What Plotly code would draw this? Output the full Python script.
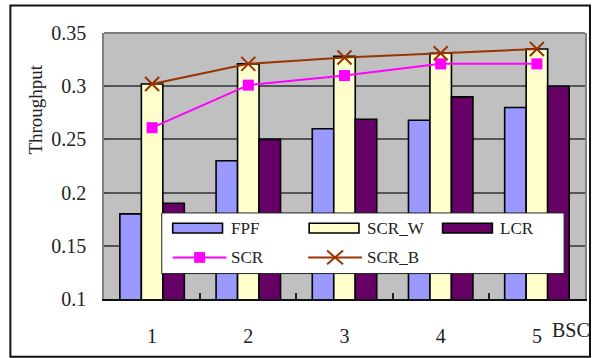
import plotly.graph_objects as go

# ---- data -------------------------------------------------------------
bsc = ["1", "2", "3", "4", "5"]
fpf = [0.18, 0.23, 0.26, 0.268, 0.28]
scr_w = [0.302, 0.321, 0.328, 0.331, 0.335]
lcr = [0.19, 0.25, 0.269, 0.29, 0.30]
scr = [0.261, 0.301, 0.31, 0.321, 0.321]
scr_b = [0.302, 0.321, 0.327, 0.331, 0.335]

y_ticks = [0.1, 0.15, 0.2, 0.25, 0.3, 0.35]
y_tick_labels = ["0.1", "0.15", "0.2", "0.25", "0.3", "0.35"]

# ---- style ------------------------------------------------------------
W, H = 598, 358
M = dict(l=104, r=11, t=33, b=53)
FONT = "Liberation Serif"
C_FPF, C_SCRW, C_LCR = "#9999FF", "#FFFFCC", "#660066"
C_SCR, C_SCRB = "#FF00FF", "#993300"

pw = W - M["l"] - M["r"]
ph = H - M["t"] - M["b"]


def px(x, y):
    """Pixel position in the page -> paper coordinates."""
    return (x - M["l"]) / pw, (H - M["b"] - y) / ph


fig = go.Figure()
bar_line = dict(color="black", width=1.6)
fig.add_bar(x=bsc, y=fpf, name="FPF", marker=dict(color=C_FPF, line=bar_line))
fig.add_bar(x=bsc, y=scr_w, name="SCR_W", marker=dict(color=C_SCRW, line=bar_line))
fig.add_bar(x=bsc, y=lcr, name="LCR", marker=dict(color=C_LCR, line=bar_line))
fig.add_scatter(x=bsc, y=scr, name="SCR", mode="lines+markers",
                line=dict(color=C_SCR, width=2),
                marker=dict(symbol="square", size=11, color=C_SCR))
fig.add_scatter(x=bsc, y=scr_b, name="SCR_B", mode="lines+markers",
                line=dict(color=C_SCRB, width=2),
                marker=dict(symbol="x-thin", size=14,
                            line=dict(color=C_SCRB, width=2)))

shapes = []
annotations = []

# outer frame
fx0, fy0 = px(10, 5)
fx1, fy1 = px(592, 364)
shapes.append(dict(type="rect", xref="paper", yref="paper", x0=fx0, x1=fx1,
                   y0=fy1, y1=fy0, line=dict(color="#111111", width=2),
                   layer="above"))
# top edge of plot area
shapes.append(dict(type="line", xref="paper", yref="paper", x0=0, x1=1,
                   y0=1, y1=1, line=dict(color="#808080", width=2),
                   layer="above"))

# legend box
lx0, ly0 = px(162, 279)
lx1, ly1 = px(566, 217)
shapes.append(dict(type="rect", xref="paper", yref="paper", x0=lx0, x1=lx1,
                   y0=ly0, y1=ly1, fillcolor="white",
                   line=dict(color="#222222", width=1), layer="above"))

row1, row2 = 232.5, 262.5
# bar swatches: (name, color, swatch left, text left)
bar_entries = [("FPF", C_FPF, 173, 230), ("SCR_W", C_SCRW, 310, 366),
               ("LCR", C_LCR, 444, 500)]
for name, color, sx, tx in bar_entries:
    a0, b0 = px(sx, row1 + 5)
    a1, b1 = px(sx + 50, row1 - 5)
    shapes.append(dict(type="rect", xref="paper", yref="paper", x0=a0, x1=a1,
                       y0=b0, y1=b1, fillcolor=color,
                       line=dict(color="black", width=1.6), layer="above"))
    ax, ay = px(tx, row1)
    annotations.append(dict(x=ax, y=ay, xref="paper", yref="paper", text=name,
                            showarrow=False, xanchor="left", yanchor="middle",
                            font=dict(family=FONT, size=17, color="#222")))

# line swatches
line_entries = [("SCR", C_SCR, 173, 230, "square"),
                ("SCR_B", C_SCRB, 309, 366, "x")]
for name, color, sx, tx, sym in line_entries:
    a0, b0 = px(sx, row2)
    a1, _ = px(sx + 54, row2)
    shapes.append(dict(type="line", xref="paper", yref="paper", x0=a0, x1=a1,
                       y0=b0, y1=b0, line=dict(color=color, width=2),
                       layer="above"))
    cx = sx + 27
    if sym == "square":
        q0, r0 = px(cx - 5.5, row2 + 5.5)
        q1, r1 = px(cx + 5.5, row2 - 5.5)
        shapes.append(dict(type="rect", xref="paper", yref="paper", x0=q0,
                           x1=q1, y0=r0, y1=r1, fillcolor=color,
                           line=dict(width=0), layer="above"))
    else:
        for d in (1, -1):
            q0, r0 = px(cx - 8, row2 + 7 * d)
            q1, r1 = px(cx + 8, row2 - 7 * d)
            shapes.append(dict(type="line", xref="paper", yref="paper",
                               x0=q0, x1=q1, y0=r0, y1=r1,
                               line=dict(color=color, width=2), layer="above"))
    ax, ay = px(tx, row2)
    annotations.append(dict(x=ax, y=ay, xref="paper", yref="paper", text=name,
                            showarrow=False, xanchor="left", yanchor="middle",
                            font=dict(family=FONT, size=17, color="#222")))

# axis titles
tx, ty = px(35, 111)
annotations.append(dict(x=tx, y=ty, xref="paper", yref="paper",
                        text="Throughput", textangle=-90, showarrow=False,
                        xanchor="center", yanchor="middle",
                        font=dict(family=FONT, size=19, color="#222")))
bx, by = px(573, 337)
annotations.append(dict(x=bx, y=by, xref="paper", yref="paper", text="BSC",
                        showarrow=False, xanchor="center", yanchor="middle",
                        font=dict(family=FONT, size=20, color="#222")))

fig.update_layout(
    width=W, height=H, margin=M,
    paper_bgcolor="white", plot_bgcolor="#C0C0C0",
    barmode="group", bargap=0.33, bargroupgap=0,
    showlegend=False,
    font=dict(family=FONT, size=20, color="#222"),
    shapes=shapes, annotations=annotations,
)
fig.update_xaxes(type="category", tickson="boundaries", ticks="inside",
                 ticklen=6, tickwidth=1.5, tickcolor="#222",
                 showline=True, linecolor="#111", linewidth=2,
                 showgrid=False, ticklabelstandoff=18,
                 tickfont=dict(family=FONT, size=20, color="#222"))
fig.update_yaxes(range=[0.1, 0.35], tickvals=y_ticks, ticktext=y_tick_labels,
                 ticks="inside", ticklen=5, tickcolor="#444",
                 showline=True, linecolor="#808080", linewidth=1.5,
                 mirror=True, showgrid=True, gridcolor="#555555",
                 gridwidth=1.5, zeroline=False, ticklabelstandoff=12,
                 tickfont=dict(family=FONT, size=20, color="#222"))

fig.write_html("out.html")
